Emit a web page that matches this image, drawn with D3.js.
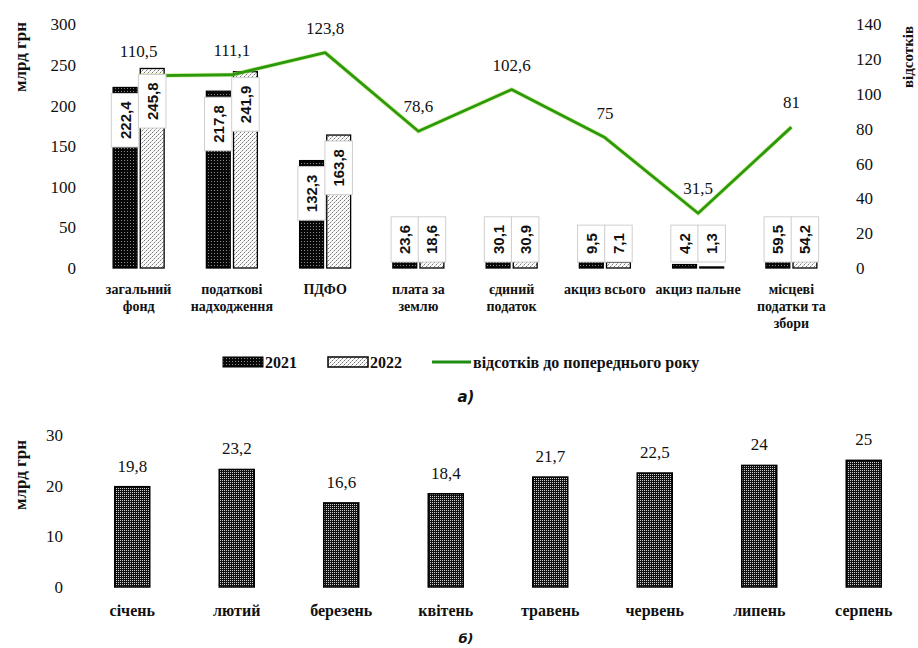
<!DOCTYPE html>
<html>
<head>
<meta charset="utf-8">
<script src="https://cdn.jsdelivr.net/npm/d3@7"></script>
<style>
  html, body { margin: 0; padding: 0; background: #fff; }
  svg { display: block; }
  text { font-family: "Liberation Serif", "Tinos", "Times New Roman", Times, "DejaVu Serif", serif; fill: #111; }
</style>
</head>
<body>
<svg id="chart" width="918" height="648"></svg>
<script>
// ---- data: budget revenues, bn UAH (panel a) ----
const categories = [
  "загальний\nфонд",
  "податкові\nнадходження",
  "ПДФО",
  "плата за\nземлю",
  "єдиний\nподаток",
  "акциз всього",
  "акциз пальне",
  "місцеві\nподатки та\nзбори"
];
const seriesNames = ["2021", "2022"];
const values2021 = [222.4, 217.8, 132.3, 23.6, 30.1, 9.5, 4.2, 59.5];
const values2022 = [245.8, 241.9, 163.8, 18.6, 30.9, 7.1, 1.3, 54.2];
const percentPrev = [110.5, 111.1, 123.8, 78.6, 102.6, 75, 31.5, 81];
const leftTicks = [0, 50, 100, 150, 200, 250, 300];
const rightTicks = [0, 20, 40, 60, 80, 100, 120, 140];
const lineLegend = "відсотків до попереднього року";

// ---- data: monthly revenues 2022, bn UAH (panel b) ----
const months = ["січень", "лютий", "березень", "квітень", "травень", "червень", "липень", "серпень"];
const monthValues = [19.8, 23.2, 16.6, 18.4, 21.7, 22.5, 24, 25];
const monthTicks = [0, 10, 20, 30];

const SERIF = '"Liberation Serif", "Tinos", "Times New Roman", Times, "DejaVu Serif", serif';
const fmt = v => String(v).replace(".", ",");

const svg = d3.select("#chart");
const defs = svg.append("defs");

// fill textures
const p21 = defs.append("pattern").attr("id", "p2021")
  .attr("width", 3).attr("height", 3).attr("patternUnits", "userSpaceOnUse");
p21.append("rect").attr("width", 3).attr("height", 3).attr("fill", "#080808");
p21.append("rect").attr("x", 1).attr("y", 1).attr("width", 1).attr("height", 1).attr("fill", "#8a8a8a");

const p22 = defs.append("pattern").attr("id", "p2022")
  .attr("width", 4).attr("height", 4).attr("patternUnits", "userSpaceOnUse");
p22.append("rect").attr("width", 4).attr("height", 4).attr("fill", "#fafafa");
p22.append("rect").attr("x", 0).attr("y", 0).attr("width", 1).attr("height", 1).attr("fill", "#777");
p22.append("rect").attr("x", 2).attr("y", 2).attr("width", 1).attr("height", 1).attr("fill", "#777");
p22.append("rect").attr("x", 1).attr("y", 3).attr("width", 1).attr("height", 1).attr("fill", "#bbb");
p22.append("rect").attr("x", 3).attr("y", 1).attr("width", 1).attr("height", 1).attr("fill", "#bbb");

const pm = defs.append("pattern").attr("id", "pMonth")
  .attr("width", 2).attr("height", 2).attr("patternUnits", "userSpaceOnUse");
pm.append("rect").attr("width", 2).attr("height", 2).attr("fill", "#111");
pm.append("rect").attr("x", 0).attr("y", 0).attr("width", 1).attr("height", 1).attr("fill", "#d0d0d0");

const fills = { "2021": "url(#p2021)", "2022": "url(#p2022)" };
const seriesValues = { "2021": values2021, "2022": values2022 };

// ================= panel a =================
const baseA = 268, topA = 24.5;
const x = d3.scaleBand().domain(categories).range([92, 838]);
const xs = d3.scaleBand().domain(seriesNames).range([-25.5, 25.5]).paddingInner(0.12);
const yL = d3.scaleLinear().domain([0, 300]).range([baseA, topA]);
const yR = d3.scaleLinear().domain([0, 140]).range([baseA, topA]);
const cx = c => x(c) + x.bandwidth() / 2;

// axes (labels only)
const axL = svg.append("g").attr("transform", "translate(76,0)")
  .call(d3.axisLeft(yL).tickValues(leftTicks).tickSize(0).tickPadding(0));
axL.select(".domain").remove();
axL.selectAll("text").style("font-family", SERIF).style("font-size", "17px").attr("fill", "#111");

const axR = svg.append("g").attr("transform", "translate(856,0)")
  .call(d3.axisRight(yR).tickValues(rightTicks).tickSize(0).tickPadding(0));
axR.select(".domain").remove();
axR.selectAll("text").style("font-family", SERIF).style("font-size", "17px").attr("fill", "#111");

svg.append("text").attr("transform", "translate(26,57) rotate(-90)")
  .attr("text-anchor", "middle").style("font-size", "17px").style("font-weight", "bold").text("млрд грн");
svg.append("text").attr("transform", "translate(913,57) rotate(-90)")
  .attr("text-anchor", "middle").style("font-size", "15px").style("font-weight", "bold").text("відсотків");

// bars
const barRows = [];
categories.forEach((c, i) => seriesNames.forEach(s => barRows.push({ c, s, v: seriesValues[s][i] })));

svg.append("g").selectAll("rect").data(barRows).join("rect")
  .attr("x", d => cx(d.c) + xs(d.s))
  .attr("width", xs.bandwidth())
  .attr("y", d => yL(d.v))
  .attr("height", d => baseA - yL(d.v))
  .attr("fill", d => fills[d.s])
  .attr("stroke", "#000").attr("stroke-width", 1.3);

// percentage line
const linePts = categories.map((c, i) => [cx(c), yR(percentPrev[i])]);
svg.append("path").attr("d", d3.line()(linePts))
  .attr("fill", "none").attr("stroke", "#b8e060").attr("stroke-width", 4.5).attr("stroke-opacity", 0.5);
svg.append("path").attr("d", d3.line()(linePts))
  .attr("fill", "none").attr("stroke", "#2a9a0a").attr("stroke-width", 2.8).attr("stroke-linejoin", "round");

// rotated value labels in boxes
const boxW = 27.5, pad = 8;
const lblG = svg.append("g");
barRows.forEach(d => {
  const bx = cx(d.c) + xs(d.s) + xs.bandwidth() / 2;
  const t = lblG.append("text").attr("text-anchor", "middle")
    .style("font-family", '"Liberation Sans", Arial, sans-serif')
    .style("font-size", "15px").style("font-weight", "bold")
    .text(fmt(d.v));
  const tw = t.node().getComputedTextLength();
  const h = tw + 2 * pad;
  let top = yL(d.v) + 6;
  if (top + h > baseA - 6) top = baseA - 6 - h;
  lblG.insert("rect", () => t.node())
    .attr("x", bx - boxW / 2).attr("y", top).attr("width", boxW).attr("height", h)
    .attr("fill", "#fff").attr("stroke", "#cfcfcf").attr("stroke-width", 1);
  t.attr("transform", `translate(${bx + 5.5},${top + h / 2}) rotate(-90)`);
});

// line value labels
svg.append("g").selectAll("text").data(percentPrev).join("text")
  .attr("x", (d, i) => cx(categories[i]))
  .attr("y", d => yR(d) - 19)
  .attr("text-anchor", "middle").style("font-size", "17px")
  .text(d => fmt(d));

// category labels
const catG = svg.append("g");
categories.forEach(c => {
  const lines = c.split("\n");
  const t = catG.append("text").attr("text-anchor", "middle")
    .style("font-size", "14px").style("font-weight", "bold");
  lines.forEach((ln, k) => t.append("tspan").attr("x", cx(c)).attr("y", 294 + k * 17).text(ln));
});

// legend
const lg = svg.append("g");
lg.append("rect").attr("x", 223).attr("y", 357).attr("width", 40).attr("height", 10)
  .attr("fill", "url(#p2021)").attr("stroke", "#000").attr("stroke-width", 1);
lg.append("text").attr("x", 265).attr("y", 368).style("font-size", "16px").style("font-weight", "bold").text(seriesNames[0]);
lg.append("rect").attr("x", 328).attr("y", 357).attr("width", 40).attr("height", 10)
  .attr("fill", "url(#p2022)").attr("stroke", "#000").attr("stroke-width", 1.5);
lg.append("text").attr("x", 370).attr("y", 368).style("font-size", "16px").style("font-weight", "bold").text(seriesNames[1]);
lg.append("line").attr("x1", 432).attr("x2", 471).attr("y1", 362).attr("y2", 362)
  .attr("stroke", "#1f8c12").attr("stroke-width", 3);
lg.append("text").attr("x", 473).attr("y", 368).style("font-size", "16px").style("font-weight", "bold")
  .text(lineLegend);

svg.append("text").attr("x", 466).attr("y", 402).attr("text-anchor", "middle")
  .style("font-family", '"DejaVu Sans", sans-serif').style("font-size", "15px")
  .style("font-weight", "bold").style("font-style", "italic").text("а)");

// ================= panel b =================
const baseB = 587, topB = 435;
const xb = d3.scaleBand().domain(months).range([80, 916]).paddingInner(0.665).paddingOuter(0.3325);
const yb = d3.scaleLinear().domain([0, 30]).range([baseB, topB]);

const axB = svg.append("g").attr("transform", "translate(63,0)")
  .call(d3.axisLeft(yb).tickValues(monthTicks).tickSize(0).tickPadding(0));
axB.select(".domain").remove();
axB.selectAll("text").style("font-family", SERIF).style("font-size", "17px").attr("fill", "#111");

svg.append("text").attr("transform", "translate(26,475) rotate(-90)")
  .attr("text-anchor", "middle").style("font-size", "17px").style("font-weight", "bold").text("млрд грн");

svg.append("g").selectAll("rect").data(months).join("rect")
  .attr("x", m => xb(m)).attr("width", xb.bandwidth())
  .attr("y", (m, i) => yb(monthValues[i]))
  .attr("height", (m, i) => baseB - yb(monthValues[i]))
  .attr("fill", "url(#pMonth)").attr("stroke", "#000").attr("stroke-width", 1.5);

svg.append("g").selectAll("text").data(months).join("text")
  .attr("x", m => xb(m) + xb.bandwidth() / 2)
  .attr("y", (m, i) => yb(monthValues[i]) - 15)
  .attr("text-anchor", "middle").style("font-size", "17px")
  .text((m, i) => fmt(monthValues[i]));

svg.append("g").selectAll("text").data(months).join("text")
  .attr("x", m => xb(m) + xb.bandwidth() / 2)
  .attr("y", 616)
  .attr("text-anchor", "middle").style("font-size", "16px").style("font-weight", "bold")
  .text(m => m);

svg.append("text").attr("x", 466).attr("y", 643).attr("text-anchor", "middle")
  .style("font-family", '"DejaVu Sans", sans-serif').style("font-size", "13px")
  .style("font-weight", "bold").style("font-style", "italic").text("б)");
</script>
</body>
</html>
